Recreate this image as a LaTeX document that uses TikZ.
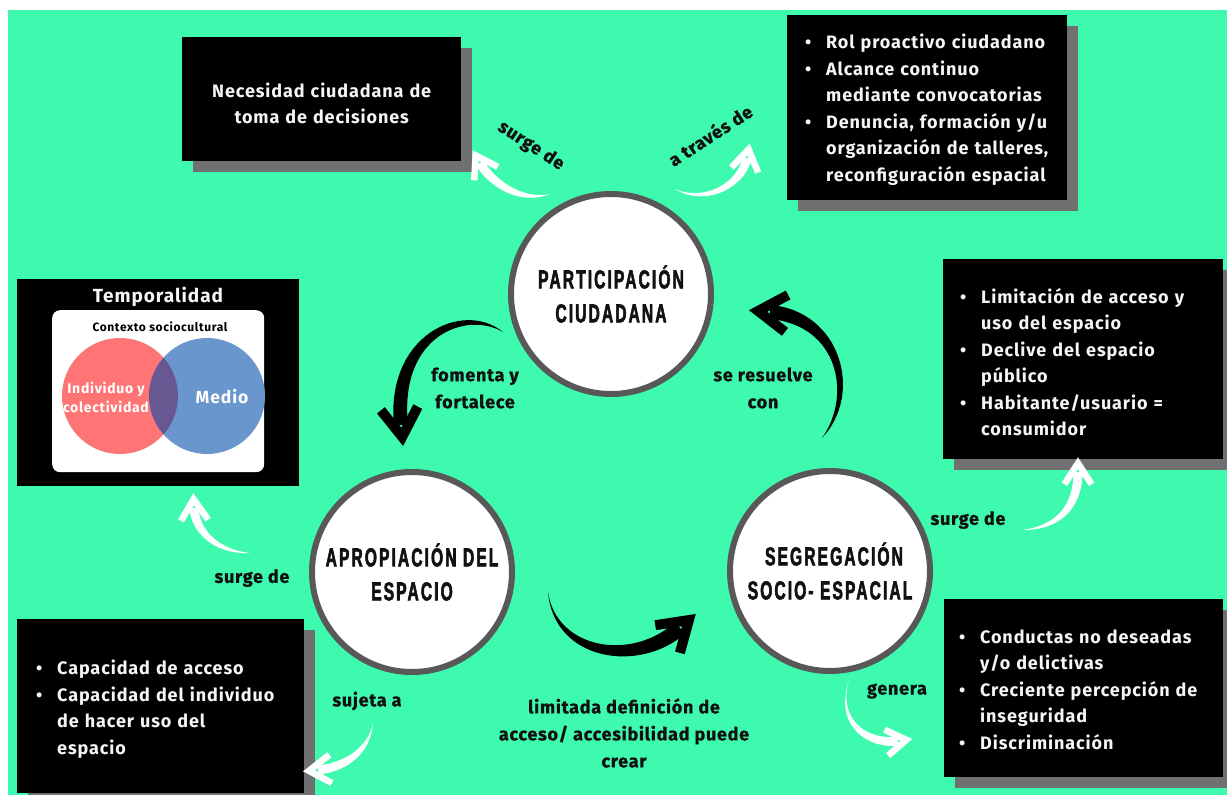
\documentclass[tikz,border=0pt]{standalone}
\usepackage{fontspec}
\usetikzlibrary{calc,shadows}
\setmainfont{Fira Sans}
\newfontfamily\firab{Fira Sans}[LetterSpace=5]
\newfontfamily\firalbl{Fira Sans}[LetterSpace=4,FakeBold=1]
\newfontfamily\bebas{Liberation Sans}[FakeStretch=0.6,LetterSpace=8,FakeBold=2]
\definecolor{bg}{RGB}{62,250,174}
\definecolor{shadowgray}{RGB}{112,112,112}
\definecolor{ringgray}{RGB}{88,88,88}
\definecolor{vred}{RGB}{255,117,117}
\definecolor{vblue}{RGB}{106,150,206}
\definecolor{vmix}{RGB}{104,88,145}
\definecolor{inkblack}{RGB}{17,17,17}
\definecolor{boxwhite}{RGB}{245,245,245}
\newcommand{\bul}[1]{\par\noindent\hangindent=21pt\hangafter=1\makebox[21pt][l]{\textbullet}#1}
% #1 name, #2 colour, #3 start, #4 ctrl1, #5 ctrl2, #6 end, #7 half width, #8 head length, #9 head stroke
\newcommand{\brush}[9]{%
  \coordinate (#1-s) at #3; \coordinate (#1-a) at #4;
  \coordinate (#1-b) at #5; \coordinate (#1-e) at #6;
  \coordinate (#1-t) at ($(#1-e)!-0.35*#8!(#1-b)$);
  \fill[#2] (#1-s) .. controls ($(#1-a)!0.9*#7!-90:(#1-b)$) and ($(#1-b)!#7!-90:(#1-e)$) .. ($(#1-e)!#7!90:(#1-b)$)
     -- ($(#1-e)!#7!-90:(#1-b)$) .. controls ($(#1-b)!#7!90:(#1-e)$) and ($(#1-a)!0.9*#7!90:(#1-b)$) .. (#1-s) -- cycle;
  \draw[#2, line width=#9, line join=miter, line cap=butt]
     ($(#1-t)!#8!33:(#1-b)$) -- (#1-t) -- ($(#1-t)!#8!-33:(#1-b)$);
}
\tikzset{
  blackbox/.style={rectangle, fill=black, text=boxwhite, anchor=north west, inner ysep=0pt,
    font=\firab\bfseries\fontsize{18}{26.5}\selectfont, align=left},
  shadowed/.style={general shadow={fill=shadowgray, shadow xshift=11pt, shadow yshift=-11pt}},
  bigcircle/.style={circle, draw=ringgray, line width=6pt, fill=white, minimum size=200pt,
    inner sep=0pt, align=center, text=inkblack, font=\bebas\bfseries\fontsize{26}{34}\selectfont},
  lbl/.style={font=\firalbl\bfseries\fontsize{18}{27}\selectfont, text=inkblack, align=center, inner sep=0pt},
}
\begin{document}
\begin{tikzpicture}[x=1pt,y=-1pt]
\useasboundingbox (0,0) rectangle (1227,795);
\fill[white] (0,0) rectangle (1227,795);
\fill[bg] (8,10) rectangle (1227,795);

% boxes
\node[blackbox, shadowed, minimum width=279pt, minimum height=124pt, text width=259pt, inner xsep=10pt, align=center]
  (necesidad) at (182,37) {Necesidad ciudadana de\\toma de decisiones\par\vspace*{-8pt}};
\node[blackbox, shadowed, minimum width=280pt, minimum height=185pt, text width=244pt, inner xsep=18pt]
  (rol) at (787,15) {\bul{Rol proactivo ciudadano}\bul{Alcance continuo\newline mediante convocatorias}\bul{Denuncia, formación y/u\newline organización de talleres,\newline reconfiguración espacial}\par\vspace*{8pt}};
\node[blackbox, shadowed, minimum width=280pt, minimum height=200pt, text width=246pt, inner xsep=17pt]
  (limit) at (943,259) {\bul{Limitación de acceso y\newline uso del espacio}\bul{Declive del espacio\newline público}\bul{Habitante/usuario =\newline consumidor}\par\vspace*{6pt}};
\node[blackbox, shadowed, minimum width=287pt, minimum height=174pt, text width=249pt, inner xsep=19pt]
  (capac) at (17,619) {\bul{Capacidad de acceso}\bul{Capacidad del individuo\newline de hacer uso del\newline espacio}\par\vspace*{6pt}};
\node[blackbox, shadowed, minimum width=279pt, minimum height=178pt, text width=249pt, inner xsep=15pt]
  (conduc) at (944,599) {\bul{Conductas no deseadas\newline y/o delictivas}\bul{Creciente percepción de\newline inseguridad}\bul{Discriminación}\par\vspace*{10pt}};

% temporalidad
\node[rectangle, fill=black, anchor=north west, minimum width=282pt, minimum height=207pt, inner sep=0pt] (temporal) at (17,279) {};
\node[text=boxwhite, font=\firab\bfseries\fontsize{19}{22}\selectfont, inner sep=0pt] (templbl) at (158,297) {Temporalidad};
\node[rectangle, fill=white, rounded corners=8pt, anchor=north west, minimum width=212pt, minimum height=162pt, inner sep=0pt] (contexto) at (52,310) {};
\node[text=black, font=\firab\bfseries\fontsize{12}{14}\selectfont, inner sep=0pt] (ctxlbl) at (160,327) {Contexto sociocultural};
\fill[vred] (120,396) circle[radius=58pt];
\fill[vblue] (207,396) circle[radius=58pt];
\begin{scope}
  \clip (120,396) circle[radius=58pt];
  \fill[vmix] (207,396) circle[radius=58pt];
\end{scope}
\node[text=white, font=\firab\bfseries\fontsize{14}{19}\selectfont, align=center, inner sep=0pt] (indiv) at (106,397) {Individuo y\\colectividad};
\node[text=white, font=\firab\bfseries\fontsize{17.5}{20}\selectfont, inner sep=0pt] (medio) at (222,397) {Medio};

% circles
\node[bigcircle] (part) at (611,294) {PARTICIPACIÓN\\CIUDADANA};
\node[bigcircle] (apro) at (412,572) {APROPIACIÓN DEL\\ESPACIO};
\node[bigcircle] (segr) at (830,571) {\hspace*{8pt}SEGREGACIÓN\\SOCIO- ESPACIAL};

% labels
\node[lbl, rotate=-33] (l1) at (531,146) {surge de};
\node[lbl, rotate=33] (l2) at (710,135) {a través de};
\node[lbl] (l3) at (475,388) {fomenta y\\fortalece};
\node[lbl] (l4) at (763,388) {se resuelve\\con};
\node[lbl] (l5) at (252,578) {surge de};
\node[lbl] (l6) at (968,520) {surge de};
\node[lbl] (l7) at (367,701) {sujeta a};
\node[lbl] (l8) at (897,691) {genera};
\node[lbl] (l9) at (624,733) {limitada definición de\\acceso/ accesibilidad puede\\crear};

% black arrows
\brush{aone}{black}{(503,332)}{(465,305)}{(392,335)}{(401,425)}{7pt}{34pt}{10pt}
\brush{atwo}{black}{(822,438)}{(858,395)}{(840,318)}{(770,312)}{7pt}{34pt}{10pt}
\brush{athree}{black}{(548,592)}{(555,655)}{(635,668)}{(680,628)}{7.5pt}{34pt}{10pt}
% white arrows
\brush{wone}{white}{(550,194)}{(522,203)}{(492,184)}{(480,163)}{4.5pt}{25pt}{6.5pt}
\brush{wtwo}{white}{(675,189)}{(705,205)}{(742,185)}{(747,158)}{4.5pt}{25pt}{6.5pt}
\brush{wthree}{white}{(250,553)}{(215,552)}{(195,530)}{(194,508)}{4.5pt}{25pt}{6.5pt}
\brush{wfour}{white}{(1022,530)}{(1060,528)}{(1078,505)}{(1078,472)}{4.5pt}{25pt}{6.5pt}
\brush{wfive}{white}{(373,724)}{(368,755)}{(340,768)}{(318,770)}{4.5pt}{26pt}{6.5pt}
\brush{wsix}{white}{(849,680)}{(835,725)}{(870,745)}{(898,741)}{4.5pt}{24pt}{6.5pt}
\end{tikzpicture}
\end{document}
